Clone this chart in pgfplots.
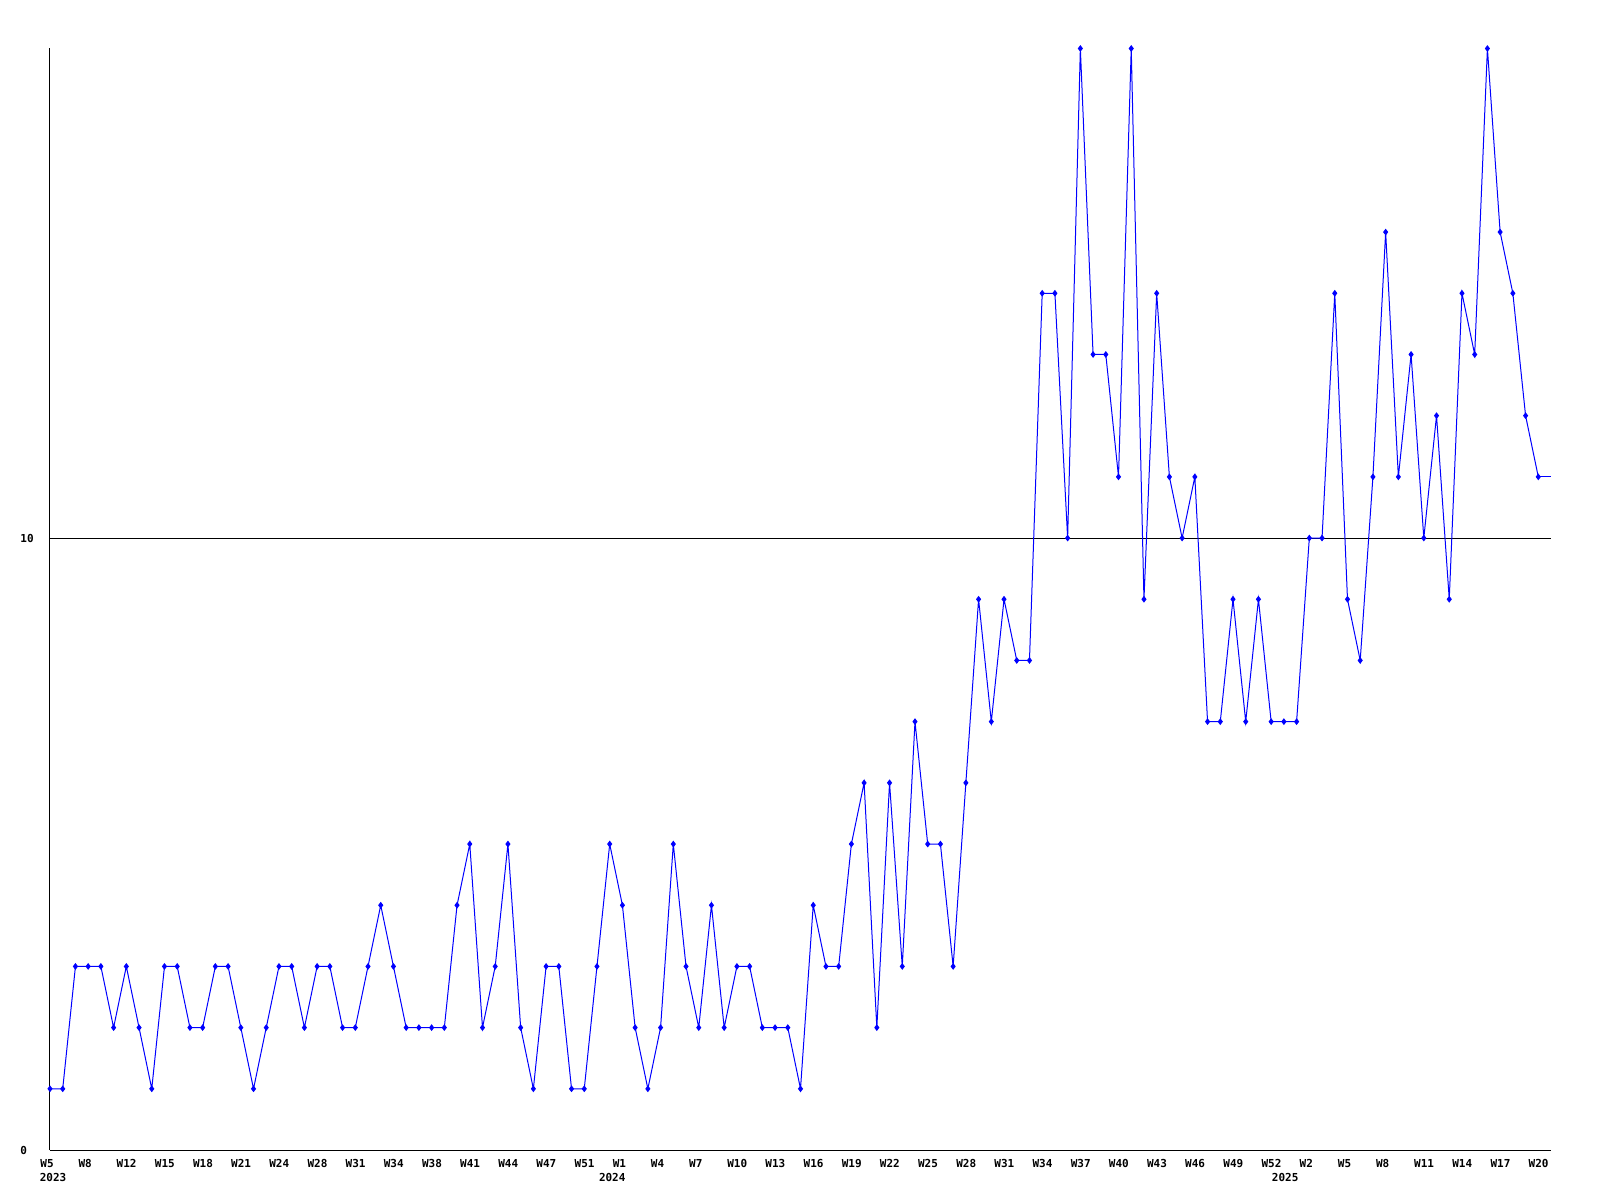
\documentclass[border=0pt]{standalone}
\usepackage{fontspec}
\setmonofont{DejaVu Sans Mono}
\usepackage{pgfplots}
\pgfplotsset{compat=1.18}

\newcommand{\lblfont}{\fontsize{5.5}{6}\selectfont\ttfamily\bfseries}

\begin{document}
\begin{tikzpicture}
\path[use as bounding box] (-25pt,-25pt) rectangle (775pt,575pt);
\begin{axis}[
    scale only axis,
    width=750.5pt, height=550.75pt,
    xmin=0, xmax=118, ymin=0, ymax=18,
    axis x line=bottom, axis y line=left,
    axis line style={-, black, line width=0.5pt},
    major tick length=0pt,
    ytick={0,10}, yticklabels={0,10},
    ymajorgrids, grid style={black, line width=0.5pt},
    xtick={0,3,...,117},
    xticklabels={W5,W8,W12,W15,W18,W21,W24,W28,W31,W34,W38,W41,W44,W47,W51,
                 W1,W4,W7,W10,W13,W16,W19,W22,W25,W28,W31,W34,W37,W40,W43,W46,W49,W52,
                 W2,W5,W8,W11,W14,W17,W20},
    xticklabel style={anchor=north west, inner sep=0pt, xshift=-5pt, yshift=-4.5pt},
    yticklabel style={anchor=west, inner sep=0pt, xshift=-15pt},
    tick label style={font=\lblfont},
    /pgf/number format/assume math mode=true,
    clip=false,
]
% weekly counts
\addplot[blue, line width=0.5pt, mark=diamond*, mark size=1.3pt,
         mark options={blue}] coordinates {
(0,1)(1,1)(2,3)(3,3)(4,3)(5,2)(6,3)(7,2)(8,1)(9,3)
(10,3)(11,2)(12,2)(13,3)(14,3)(15,2)(16,1)(17,2)(18,3)(19,3)
(20,2)(21,3)(22,3)(23,2)(24,2)(25,3)(26,4)(27,3)(28,2)(29,2)
(30,2)(31,2)(32,4)(33,5)(34,2)(35,3)(36,5)(37,2)(38,1)(39,3)
(40,3)(41,1)(42,1)(43,3)(44,5)(45,4)(46,2)(47,1)(48,2)(49,5)
(50,3)(51,2)(52,4)(53,2)(54,3)(55,3)(56,2)(57,2)(58,2)(59,1)
(60,4)(61,3)(62,3)(63,5)(64,6)(65,2)(66,6)(67,3)(68,7)(69,5)
(70,5)(71,3)(72,6)(73,9)(74,7)(75,9)(76,8)(77,8)(78,14)(79,14)
(80,10)(81,18)(82,13)(83,13)(84,11)(85,18)(86,9)(87,14)(88,11)(89,10)
(90,11)(91,7)(92,7)(93,9)(94,7)(95,9)(96,7)(97,7)(98,7)(99,10)
(100,10)(101,14)(102,9)(103,8)(104,11)(105,15)(106,11)(107,13)(108,10)(109,12)
(110,9)(111,14)(112,13)(113,18)(114,15)(115,14)(116,12)(117,11)
};
% current week, no marker
\addplot[blue, line width=0.5pt, mark=none] coordinates {(117,11)(118,11)};

\node[anchor=north, inner sep=0pt, font=\lblfont, yshift=-11.5pt] at (axis cs:0.24,0) {2023};
\node[anchor=north, inner sep=0pt, font=\lblfont, yshift=-11.5pt] at (axis cs:44.2,0) {2024};
\node[anchor=north, inner sep=0pt, font=\lblfont, yshift=-11.5pt] at (axis cs:97.1,0) {2025};
\end{axis}
\end{tikzpicture}
\end{document}
